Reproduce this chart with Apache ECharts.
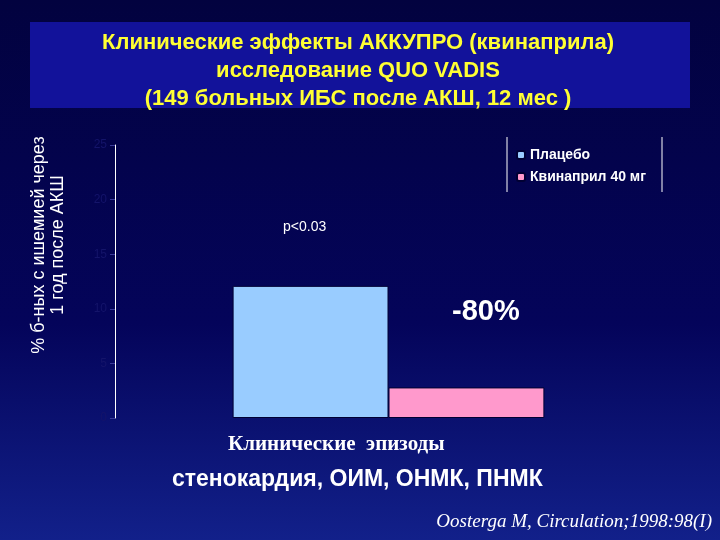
<!DOCTYPE html>
<html>
<head>
<meta charset="utf-8">
<script src="https://cdn.jsdelivr.net/npm/echarts@6/dist/echarts.min.js"></script>
<style>
  html, body { margin: 0; padding: 0; background: #03034d; }
  #main { width: 720px; height: 540px; }
</style>
</head>
<body>
<div id="main"></div>
<script>
// data
const categories = ['Клинические  эпизоды'];
const seriesNames = ['Плацебо', 'Квинаприл 40 мг'];
const placebo = [12.1];
const quinapril = [2.8];
const yTicks = [0, 5, 10, 15, 20, 25];

const chart = echarts.init(document.getElementById('main'));

const option = {
  backgroundColor: {
    type: 'linear', x: 0, y: 0, x2: 0, y2: 1,
    colorStops: [
      {offset: 0, color: '#02023f'},
      {offset: 0.6, color: '#04045a'},
      {offset: 1, color: '#12208a'}
    ]
  },
  color: ['#99ccff', '#ff99cc'],
  graphic: [
    // title box
    {type: 'rect', shape: {x: 30, y: 22, width: 660, height: 86}, style: {fill: '#12129a'}, z: 0},
    {type: 'text', x: 358, y: 29, z: 2,
      style: {
        text: 'Клинические эффекты АККУПРО (квинаприла)\nисследование QUO VADIS\n(149 больных ИБС после АКШ, 12 мес )',
        fill: '#ffff33', font: 'bold 22px Arial', align: 'center', lineHeight: 28
      }},
    // y axis title
    {type: 'text', x: 49, y: 245, rotation: Math.PI / 2,
      style: {
        text: '% б-ных с ишемией через\n1 год после АКШ',
        fill: '#ffffff', font: '18px Arial', align: 'center', verticalAlign: 'middle', lineHeight: 19
      }},
    // legend bracket
    {type: 'line', shape: {x1: 507, y1: 137, x2: 507, y2: 192}, style: {stroke: '#ffffff', lineWidth: 1}},
    {type: 'line', shape: {x1: 662, y1: 137, x2: 662, y2: 192}, style: {stroke: '#ffffff', lineWidth: 1}},
    {type: 'text', left: 283, top: 220, style: {text: 'p<0.03', fill: '#ffffff', font: '14px Arial'}},
    {type: 'text', left: 452, top: 297, style: {text: '-80%', fill: '#ffffff', font: 'bold 29px Arial'}},
    {type: 'text', left: 228, top: 434, style: {text: 'Клинические  эпизоды', fill: '#ffffff', font: 'bold 21px "Liberation Serif"'}},
    {type: 'text', left: 172, top: 468, style: {text: 'стенокардия, ОИМ, ОНМК, ПНМК', fill: '#ffffff', font: 'bold 23px Arial'}},
    {type: 'text', right: 8, top: 512, style: {text: 'Oosterga M, Circulation;1998:98(I)', fill: '#ffffff', font: 'italic 19px "Liberation Serif"'}}
  ],
  legend: {
    data: seriesNames,
    orient: 'vertical',
    left: 511,
    top: 143,
    itemWidth: 8,
    itemHeight: 8,
    itemGap: 8,
    textStyle: {color: '#ffffff', fontFamily: 'Arial', fontWeight: 'bold', fontSize: 14}
  },
  grid: {left: 115, right: 58, top: 145, bottom: 122},
  xAxis: {
    type: 'category',
    data: categories,
    axisLine: {show: false},
    axisTick: {show: false},
    axisLabel: {show: false}
  },
  yAxis: {
    type: 'value',
    min: yTicks[0],
    max: yTicks[yTicks.length - 1],
    interval: 5,
    axisLine: {show: true, lineStyle: {color: '#ffffff', width: 1}},
    axisTick: {show: true, length: 5, lineStyle: {color: '#3a3a9a'}},
    axisLabel: {color: '#14146a', fontSize: 12, fontFamily: 'Arial'},
    splitLine: {show: false}
  },
  series: [
    {name: seriesNames[0], type: 'bar', data: placebo, barGap: 0, barCategoryGap: '43%',
      itemStyle: {borderColor: '#000033', borderWidth: 1}},
    {name: seriesNames[1], type: 'bar', data: quinapril,
      itemStyle: {borderColor: '#000033', borderWidth: 1}}
  ]
};

chart.setOption(option);
</script>
</body>
</html>
